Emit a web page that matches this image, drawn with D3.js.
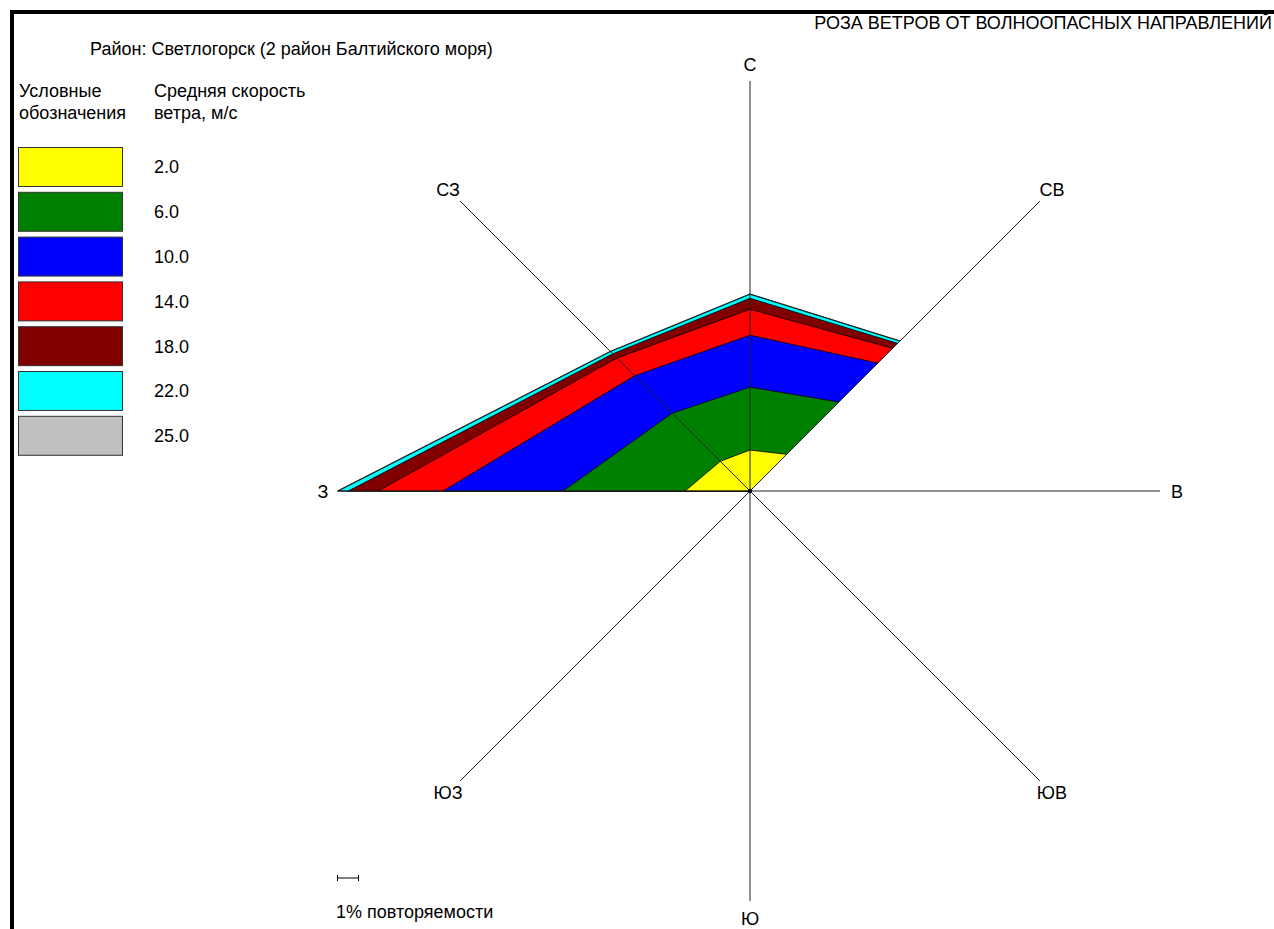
<!DOCTYPE html>
<html>
<head>
<meta charset="utf-8">
<script src="https://cdn.jsdelivr.net/npm/d3@7"></script>
<style>
  html, body { margin: 0; padding: 0; background: #fff; }
  svg { display: block; }
  text { font-family: "Liberation Sans", Arial, sans-serif; fill: #000; font-size: 18px; }
</style>
</head>
<body>
<svg id="chart" width="1274" height="929"></svg>
<script>
// Compass directions, clockwise from north
const directions = ["С", "СВ", "В", "ЮВ", "Ю", "ЮЗ", "З", "СЗ"];

// Wind speed classes (m/s) and their colours
const speedLabels = ["2.0", "6.0", "10.0", "14.0", "18.0", "22.0", "25.0"];
const speedColors = ["#ffff00", "#008000", "#0000ff", "#ff0000", "#800000", "#00ffff", "#c0c0c0"];

// Repeatability, % per direction (С, СВ, В, ЮВ, Ю, ЮЗ, З, СЗ) for each speed class
const speed2  = [1.86, 2.36, 0, 0, 0, 0, 2.95, 1.91];
const speed6  = [2.86, 3.36, 0, 0, 0, 0, 5.55, 3.09];
const speed10 = [2.36, 2.50, 0, 0, 0, 0, 5.45, 2.41];
const speed14 = [1.18, 0.95, 0, 0, 0, 0, 2.95, 1.14];
const speed18 = [0.50, 0.32, 0, 0, 0, 0, 1.36, 0.27];
const speed22 = [0.18, 0.14, 0, 0, 0, 0, 0.45, 0.14];
const speed25 = [0.02, 0.02, 0, 0, 0, 0, 0.05, 0.02];

const series = [speed2, speed6, speed10, speed14, speed18, speed22, speed25];

const svg = d3.select("#chart");

// Frame: heavy top and left rules
svg.append("line").attr("x1", 10).attr("x2", 1274).attr("y1", 12).attr("y2", 12)
  .attr("stroke", "#000").attr("stroke-width", 4);
svg.append("line").attr("x1", 12).attr("x2", 12).attr("y1", 10).attr("y2", 929)
  .attr("stroke", "#000").attr("stroke-width", 4);

// Titles
svg.append("text").attr("x", 1272).attr("y", 29).attr("text-anchor", "end")
  .text("РОЗА ВЕТРОВ ОТ ВОЛНООПАСНЫХ НАПРАВЛЕНИЙ");
svg.append("text").attr("x", 90).attr("y", 55)
  .text("Район: Светлогорск (2 район Балтийского моря)");

// Legend header
const hdr = svg.append("g");
hdr.append("text").attr("x", 19).attr("y", 97).text("Условные");
hdr.append("text").attr("x", 19).attr("y", 119).text("обозначения");
hdr.append("text").attr("x", 154).attr("y", 97).text("Средняя скорость");
hdr.append("text").attr("x", 154).attr("y", 119).text("ветра, м/с");

// Legend swatches
const legendY = d3.scaleBand().domain(speedLabels)
  .range([147, 147 + 44.8 * 6.87]).paddingInner(0.13).paddingOuter(0);
const leg = svg.append("g");
leg.selectAll("rect").data(speedLabels).join("rect")
  .attr("x", 18.5).attr("y", d => legendY(d) + 0.5)
  .attr("width", 104).attr("height", legendY.bandwidth())
  .attr("fill", (d, i) => speedColors[i])
  .attr("stroke", "#333").attr("stroke-width", 1);
leg.selectAll("text").data(speedLabels).join("text")
  .attr("x", 154).attr("y", d => legendY(d) + legendY.bandwidth() / 2 + 7)
  .text(d => d);

// Rose geometry
const cx = 750, cy = 491;
const axisLen = 410;
const r = d3.scaleLinear().domain([0, 1]).range([0, 22]); // px per 1 % repeatability
const angle = d3.scalePoint().domain(directions).range([0, 2 * Math.PI * 7 / 8]);

const rose = svg.append("g").attr("transform", `translate(${cx},${cy})`);

// Cumulative totals per direction for each speed class
const cumulative = [];
series.forEach((s, k) => {
  cumulative.push(s.map((v, i) => v + (k ? cumulative[k - 1][i] : 0)));
});

const radial = d3.lineRadial()
  .angle((d, i) => angle(directions[i]))
  .radius(d => r(d))
  .curve(d3.curveLinearClosed);

// Outer classes first so inner ones sit on top
rose.selectAll("path.band")
  .data(cumulative.map((c, k) => ({ c, k })).reverse())
  .join("path")
  .attr("class", "band")
  .attr("d", d => radial(d.c))
  .attr("fill", d => speedColors[d.k])
  .attr("stroke", "#000").attr("stroke-width", 0.8).attr("stroke-linejoin", "miter");

// Direction axes
rose.selectAll("line.axis").data(directions).join("line")
  .attr("class", "axis")
  .attr("x1", 0).attr("y1", 0)
  .attr("x2", d => axisLen * Math.sin(angle(d)))
  .attr("y2", d => -axisLen * Math.cos(angle(d)))
  .attr("stroke", "#222").attr("stroke-width", 1);

rose.append("circle").attr("r", 2.2).attr("fill", "#000");

// Direction labels
const labelR = 427;
rose.selectAll("text.dir").data(directions).join("text")
  .attr("class", "dir")
  .attr("x", d => labelR * Math.sin(angle(d)))
  .attr("y", d => -labelR * Math.cos(angle(d)) + 6.5)
  .attr("text-anchor", "middle")
  .text(d => d);

// Scale bar: 1 % of repeatability
const sb = svg.append("g").attr("transform", "translate(337,878)");
sb.append("line").attr("x1", 0).attr("x2", r(1)).attr("y1", 0).attr("y2", 0).attr("stroke", "#000");
sb.append("line").attr("x1", 0.5).attr("x2", 0.5).attr("y1", -3).attr("y2", 3).attr("stroke", "#000");
sb.append("line").attr("x1", r(1) - 0.5).attr("x2", r(1) - 0.5).attr("y1", -3).attr("y2", 3).attr("stroke", "#000");
svg.append("text").attr("x", 336).attr("y", 918).text("1% повторяемости");
</script>
</body>
</html>
